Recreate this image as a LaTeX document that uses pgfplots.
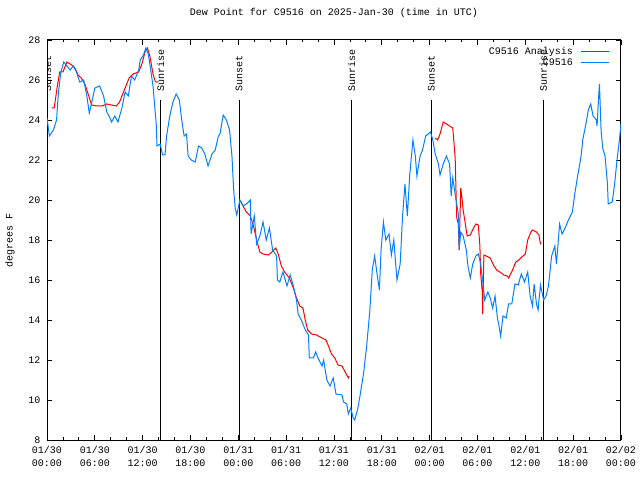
\documentclass[border=0pt]{standalone}
\usepackage{pgfplots}
\pgfplotsset{compat=1.18}
\usepackage{fontspec}
\setmainfont{Liberation Mono}
\definecolor{anared}{RGB}{255,0,0}
\definecolor{obsblue}{RGB}{0,128,255}
\begin{document}
\begin{tikzpicture}[font=\fontsize{10bp}{12bp}\selectfont]
\path[use as bounding box] (0,0) rectangle (640bp,480bp);
\begin{axis}[
  at={(47bp,40bp)}, anchor=south west,
  scale only axis, width=574bp, height=400bp,
  xmin=0, xmax=72, ymin=8, ymax=28,
  xtick={0,6,...,72},
  xticklabels={{01/30\\00:00},{01/30\\06:00},{01/30\\12:00},{01/30\\18:00},{01/31\\00:00},{01/31\\06:00},{01/31\\12:00},{01/31\\18:00},{02/01\\00:00},{02/01\\06:00},{02/01\\12:00},{02/01\\18:00},{02/02\\00:00}},
  minor x tick num=2,
  ytick={8,10,...,28},
  tick align=inside,
  major tick length=5bp, minor tick length=2.5bp,
  tick style={black, line width=0.8bp},
  axis line style={line width=1bp},
  xticklabel style={align=center, font=\fontsize{10bp}{13bp}\selectfont, yshift=-3bp},
  yticklabel style={/pgf/number format/assume math mode=true, xshift=-3bp},
  title={Dew Point for C9516 on 2025-Jan-30 (time in UTC)},
  title style={at={(axis description cs:0.5,1.0525)}, anchor=center},
  ylabel={degrees F},
  ylabel style={at={(axis description cs:-0.0645,0.5)}, anchor=center},
  legend style={at={(axis description cs:1,1)}, anchor=north east, draw=none, fill=none,
    xshift=-8bp, yshift=-3bp, row sep=-1bp, legend cell align=right},
  legend plot pos=right,
  legend image code/.code={\path (0bp,0bp); \draw[#1] (6bp,0bp) -- (34bp,0bp);},
  unbounded coords=jump,
]
% sunrise / sunset lines
\addplot[black, line width=1bp, forget plot] coordinates {(0.1,8) (0.1,25)};
\addplot[black, line width=1bp, forget plot] coordinates {(14.25,8) (14.25,25)};
\addplot[black, line width=1bp, forget plot] coordinates {(24.1,8) (24.1,25)};
\addplot[black, line width=1bp, forget plot] coordinates {(38.2,8) (38.2,25)};
\addplot[black, line width=1bp, forget plot] coordinates {(48.2,8) (48.2,25)};
\addplot[black, line width=1bp, forget plot] coordinates {(62.25,8) (62.25,25)};
\node[rotate=90, anchor=west, inner sep=0pt] at (axis cs:0.1,25.4) {Sunset};
\node[rotate=90, anchor=west, inner sep=0pt] at (axis cs:14.25,25.4) {Sunrise};
\node[rotate=90, anchor=west, inner sep=0pt] at (axis cs:24.1,25.4) {Sunset};
\node[rotate=90, anchor=west, inner sep=0pt] at (axis cs:38.2,25.4) {Sunrise};
\node[rotate=90, anchor=west, inner sep=0pt] at (axis cs:48.2,25.4) {Sunset};
\node[rotate=90, anchor=west, inner sep=0pt] at (axis cs:62.25,25.4) {Sunrise};
% analysis
\addplot[anared, line width=1bp] coordinates {
(0.6,24.6) (0.9,24.6) (1.3,25.7) (1.6,26.4) (2.0,26.4) (2.3,26.7) (2.5,26.9) (3.1,26.75)
(3.5,26.6) (3.9,26.25) (4.3,26.1) (4.8,25.75) (5.2,25.25) (5.6,24.75) (6.2,24.7) (6.9,24.7)
(7.5,24.8) (8.1,24.75) (8.7,24.7) (9.1,24.9) (9.5,25.3) (9.9,25.7) (10.3,26.1) (10.8,26.3)
(11.5,26.4) (11.9,26.8) (12.3,27.4) (12.6,27.6) (12.9,27.2) (13.3,26.3) (13.6,25.9) (14.0,25.9)
(19,nan)
(24.2,20.0) (24.6,19.7) (25.0,19.4) (25.5,19.2) (25.9,18.7) (26.3,18.0) (26.7,17.4) (27.1,17.3)
(27.8,17.25) (28.2,17.4) (28.7,17.6) (29.0,17.3) (29.4,16.7) (29.8,16.4) (30.4,16.1) (30.9,15.6)
(31.3,15.1) (31.7,14.7) (32.1,14.6) (32.4,14.0) (32.7,13.5) (33.2,13.3) (33.8,13.25) (34.5,13.1)
(35.0,13.0) (35.3,12.7) (35.7,12.3) (36.1,12.1) (36.5,11.75) (37.0,11.7) (37.4,11.4) (37.8,11.1) (37.9,11.2)
(43,nan)
(48.7,23.1) (49.0,23.0) (49.3,23.3) (49.7,23.9) (50.3,23.75) (50.9,23.6) (51.2,22.1) (51.3,20.5)
(51.4,19.1) (51.6,18.8) (51.7,17.5) (51.9,20.6) (52.0,20.3) (52.2,19.5) (52.4,19.0) (52.7,18.2)
(53.1,18.25) (53.5,18.6) (53.8,18.8) (54.1,18.75) (54.3,17.7) (54.4,16.3) (54.6,15.4) (54.65,14.3)
(54.8,17.25) (55.1,17.2) (55.6,17.1) (56.0,16.75) (56.4,16.5) (56.8,16.4) (57.3,16.25) (57.7,16.2)
(57.9,16.1) (58.4,16.5) (58.8,16.9) (59.2,17.0) (59.7,17.2) (60.0,17.3) (60.3,18.0) (60.7,18.4)
(60.9,18.5) (61.4,18.4) (61.7,18.25) (61.9,17.8) (62.0,17.8)
};
\addlegendentry{C9516 Analysis}
% observations
\addplot[obsblue, line width=1bp] coordinates {
(0,24.1) (0.3,23.2) (0.8,23.5) (1.2,24.0) (1.4,25.2) (1.7,26.3) (2.1,26.9) (2.5,26.7) (2.9,26.5)
(3.3,26.7) (3.7,26.4) (4.1,25.9) (4.6,26.0) (5.0,25.2) (5.3,24.35) (5.6,24.85) (6.0,25.6) (6.6,25.7)
(7.1,25.2) (7.5,24.4) (7.9,24.1) (8.1,23.9) (8.5,24.2) (8.9,23.9) (9.4,24.6) (9.8,25.4) (10.2,25.2)
(10.6,26.2) (11.0,26.0) (11.5,26.5) (11.7,27.0) (12.1,27.25) (12.4,27.6) (12.7,27.3) (12.9,26.8)
(13.3,25.7) (13.7,23.8) (13.8,22.7) (14.2,22.8) (14.5,22.25) (14.8,22.25) (15.0,23.2) (15.4,24.2)
(15.8,24.9) (16.2,25.3) (16.6,25.0) (16.9,24.0) (17.2,23.2) (17.5,23.3) (17.7,22.2) (18.1,22.0)
(18.6,21.9) (19.0,22.7) (19.4,22.6) (19.8,22.3) (20.2,21.7) (20.7,22.3) (21.1,22.5) (21.5,23.2)
(21.7,23.3) (22.1,24.25) (22.5,24.0) (22.9,23.5) (23.2,22.2) (23.4,20.6) (23.6,19.6) (23.8,19.25)
(24.2,20.0) (24.6,19.7) (25.0,19.8) (25.5,20.0) (25.6,18.3) (26.0,19.2) (26.3,17.8) (26.7,18.2)
(27.1,18.9) (27.5,18.0) (27.9,18.6) (28.3,17.5) (28.8,17.2) (28.9,16.0) (29.2,15.9) (29.6,16.4)
(30.1,15.7) (30.5,16.25) (30.9,15.7) (31.3,15.0) (31.5,14.3) (31.9,14.0) (32.4,13.5) (32.8,13.25)
(32.9,12.1) (33.4,12.1) (33.7,12.4) (34.0,12.1) (34.5,11.7) (34.7,12.0) (35.1,11.0) (35.5,10.7)
(35.9,11.1) (36.25,10.3) (37.0,10.25) (37.2,9.9) (37.6,9.8) (37.8,9.3) (38.1,9.6) (38.4,9.1)
(38.6,9.0) (39.0,9.6) (39.3,10.3) (39.7,11.3) (40.1,12.7) (40.5,14.5) (40.8,16.5) (41.1,17.2)
(41.4,16.3) (41.7,15.5) (41.9,17.5) (42.2,18.9) (42.5,18.0) (42.9,18.3) (43.2,17.25) (43.5,18.0)
(43.9,16.0) (44.3,16.8) (44.6,19.2) (44.9,20.8) (45.2,19.2) (45.5,21.25) (45.9,23.0) (46.2,22.2)
(46.4,21.2) (46.8,22.2) (47.1,22.5) (47.5,23.2) (48.1,23.4) (48.4,23.0) (48.7,22.3) (49.1,21.8)
(49.3,21.25) (49.7,21.8) (50.1,22.2) (50.5,21.8) (50.7,20.2) (50.9,21.1) (51.3,20.0) (51.6,19.3)
(51.7,17.5) (51.9,18.4) (52.2,18.2) (52.6,17.5) (52.8,16.7) (53.1,16.1) (53.4,16.8) (53.8,17.2)
(54.1,17.3) (54.4,16.8) (54.7,15.8) (54.9,15.0) (55.3,15.4) (55.6,15.1) (55.9,14.6) (56.2,15.2)
(56.5,14.1) (56.7,13.7) (56.9,13.2) (57.2,14.2) (57.6,14.1) (57.9,14.8) (58.3,14.8) (58.7,15.8)
(59.1,15.75) (59.5,16.3) (59.9,15.9) (60.3,16.4) (60.6,15.2) (60.9,14.7) (61.1,15.8) (61.4,14.8)
(61.6,14.5) (61.9,15.75) (62.3,15.0) (62.6,15.2) (62.9,15.7) (63.3,17.2) (63.7,17.7) (63.9,16.8)
(64.3,18.8) (64.6,18.3) (65.0,18.6) (65.4,19.0) (65.9,19.4) (66.2,20.3) (66.6,21.3) (67.0,22.2)
(67.2,23.0) (67.6,23.8) (67.9,24.5) (68.2,24.8) (68.5,24.2) (68.9,24.0) (69.0,23.7) (69.2,25.2)
(69.3,25.8) (69.5,23.5) (69.7,22.6) (70.0,22.2) (70.3,20.8) (70.4,19.8) (70.9,19.9) (71.2,20.8)
(71.5,22.0) (71.8,23.0) (72.0,23.8)
};
\addlegendentry{C9516}
\end{axis}
\end{tikzpicture}
\end{document}
